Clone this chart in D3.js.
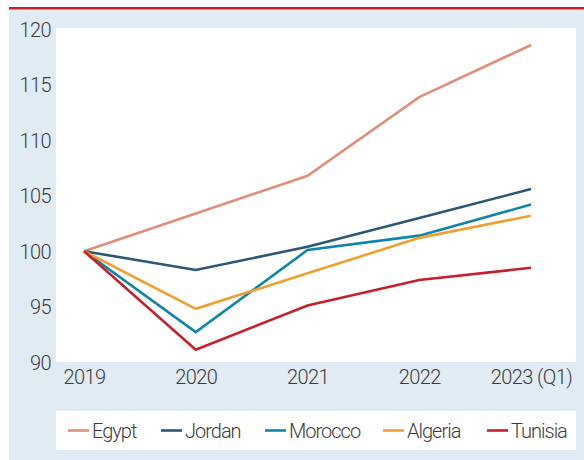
<!DOCTYPE html>
<html><head><meta charset="utf-8">
<script src="https://cdn.jsdelivr.net/npm/d3@7"></script>
<style>
html,body{margin:0;padding:0;background:#fff;}
svg text{font-family:Roboto,"Liberation Sans",sans-serif;font-weight:300;fill:#3c3c3c;letter-spacing:-0.6px;}
</style></head>
<body><svg id="c" width="584" height="460"></svg>
<script>
const years = ["2019","2020","2021","2022","2023 (Q1)"];
const seriesNames = ["Egypt","Jordan","Morocco","Algeria","Tunisia"];
const egypt   = [100, 103.4, 106.8, 113.9, 118.6];
const jordan  = [100, 98.3, 100.4, 103.0, 105.6];
const morocco = [100, 92.7, 100.1, 101.4, 104.2];
const algeria = [100, 94.8, 98.0, 101.2, 103.2];
const tunisia = [100, 91.1, 95.1, 97.4, 98.5];
const colors = ["#e0907a","#2b5876","#0f86a8","#f0a030","#c8202a"];
const yTicks = [90,95,100,105,110,115,120];

const svg = d3.select("#c");
svg.append("rect").attr("x",9).attr("y",9).attr("width",575).attr("height",451).attr("fill","#e1ebf4");
svg.append("rect").attr("x",9).attr("y",7).attr("width",575).attr("height",2.5).attr("fill","#c8202a");

const plot = {l:56, r:576, t:28, b:362};
svg.append("rect").attr("x",plot.l).attr("y",plot.t).attr("width",plot.r-plot.l).attr("height",plot.b-plot.t).attr("fill","#fff");

const x = d3.scalePoint().domain(years).range([84,531]);
const y = d3.scaleLinear().domain([90,120]).range([362,29.5]);

const yAxis = svg.append("g").attr("transform",`translate(${plot.l},0)`)
  .call(d3.axisLeft(y).tickValues(yTicks).tickSize(0).tickPadding(5));
yAxis.select(".domain").remove();
yAxis.selectAll("text").attr("font-size",20).attr("dy","0.35em");

const xAxis = svg.append("g").attr("transform",`translate(0,${plot.b})`)
  .call(d3.axisBottom(x).tickSize(0).tickPadding(8));
xAxis.select(".domain").remove();
xAxis.selectAll("text").attr("font-size",20);

const data = [egypt,jordan,morocco,algeria,tunisia];
const line = d3.line().x((d,i)=>x(years[i])).y(d=>y(d));
svg.append("g").selectAll("path").data(data).join("path")
  .attr("d",line).attr("fill","none")
  .attr("stroke",(d,i)=>colors[i]).attr("stroke-width",2.6)
  .attr("stroke-linejoin","miter");

// legend
svg.append("rect").attr("x",56).attr("y",411).attr("width",520).attr("height",39).attr("fill","#fff");
const legX = [68,161,265,383,487];
const lg = svg.append("g").selectAll("g").data(seriesNames).join("g")
  .attr("transform",(d,i)=>`translate(${legX[i]},430.5)`);
lg.append("line").attr("x1",0).attr("x2",21).attr("y1",0).attr("y2",0)
  .attr("stroke",(d,i)=>colors[i]).attr("stroke-width",2.6);
lg.append("text").attr("x",24).attr("dy","0.35em").attr("font-size",20)
  .style("letter-spacing","-1px").text(d=>d);
</script></body></html>
